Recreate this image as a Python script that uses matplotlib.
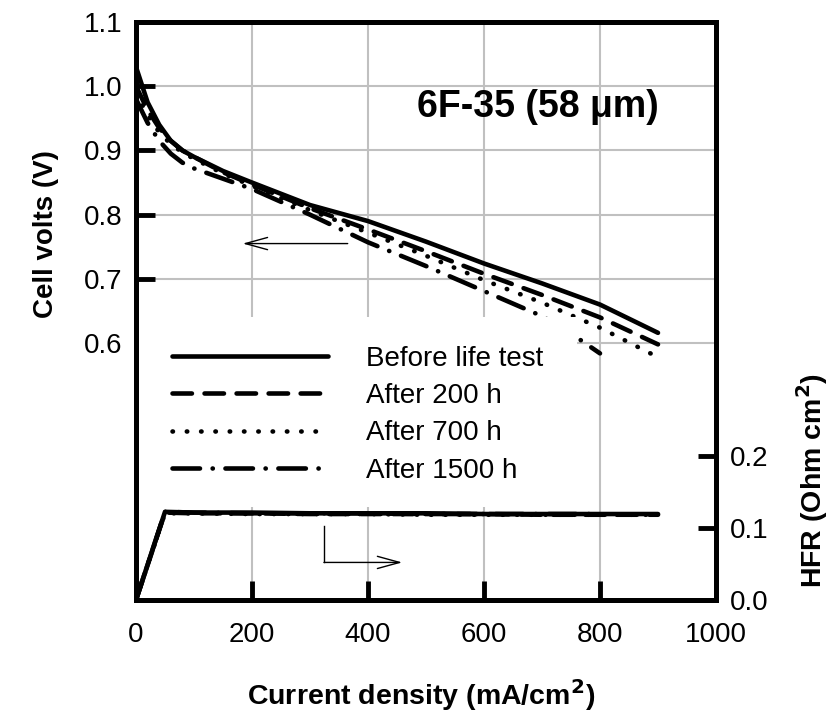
import matplotlib
matplotlib.use('Agg')
import matplotlib.pyplot as plt
from matplotlib.patches import Rectangle
from matplotlib.lines import Line2D

plt.rcParams['font.family'] = ['Liberation Sans', 'DejaVu Sans']

# ---------------- data ----------------
labels = ['Before life test', 'After 200 h', 'After 700 h', 'After 1500 h']

I_pol = [0, 20, 40, 60, 80, 100, 150, 200, 300, 400, 500, 600, 700, 800, 900]
V_before = [1.03, 0.975, 0.94, 0.915, 0.90, 0.89, 0.868, 0.85, 0.815, 0.79, 0.758, 0.724, 0.693, 0.66, 0.616]
V_200h = [1.00, 0.963, 0.935, 0.915, 0.90, 0.89, 0.866, 0.847, 0.81, 0.777, 0.743, 0.708, 0.675, 0.64, 0.598]
V_700h = [0.99, 0.955, 0.928, 0.91, 0.897, 0.887, 0.864, 0.845, 0.807, 0.772, 0.736, 0.698, 0.663, 0.624, 0.578]
I_pol_1500 = [0, 20, 40, 60, 80, 100, 150, 200, 300, 400, 500, 600, 700, 750, 800]
V_1500h = [0.98, 0.943, 0.915, 0.895, 0.881, 0.872, 0.856, 0.84, 0.80, 0.757, 0.72, 0.681, 0.642, 0.615, 0.584]

I_hfr = [0, 50, 100, 200, 300, 400, 500, 600, 700, 800, 900]
HFR_before = [0, 0.122, 0.121, 0.121, 0.120, 0.120, 0.120, 0.119, 0.119, 0.119, 0.119]
HFR_200h = [0, 0.121, 0.120, 0.120, 0.119, 0.119, 0.119, 0.119, 0.118, 0.118, 0.118]
HFR_700h = [0, 0.120, 0.120, 0.119, 0.119, 0.119, 0.118, 0.118, 0.118, 0.118, 0.118]
I_hfr_1500 = [0, 50, 100, 200, 300, 400, 500, 600, 700, 800]
HFR_1500h = [0, 0.122, 0.121, 0.120, 0.120, 0.120, 0.119, 0.119, 0.119, 0.119]

x_ticks = [0, 200, 400, 600, 800, 1000]
v_ticks = [0.6, 0.7, 0.8, 0.9, 1.0, 1.1]
hfr_ticks = [0.0, 0.1, 0.2]

# ---------------- styles ----------------
LW = 3.3
styles = [
    dict(linestyle='-', solid_capstyle='round'),
    dict(linestyle=(0, (4.24, 2.75)), dash_capstyle='round'),
    dict(linestyle=(0, (0.1, 3.02)), dash_capstyle='round'),
    dict(linestyle=(0, (6.0, 2.75, 0.05, 2.75)), dash_capstyle='round'),
]

fig = plt.figure(figsize=(8.36, 7.14), dpi=100)
ax = fig.add_axes([136 / 836, 114 / 714, 580 / 836, 578 / 714])
ax2 = ax.twinx()

pol = [(I_pol, V_before), (I_pol, V_200h), (I_pol, V_700h), (I_pol_1500, V_1500h)]
hfr = [(I_hfr, HFR_before), (I_hfr, HFR_200h), (I_hfr, HFR_700h), (I_hfr_1500, HFR_1500h)]

for (x, y), st in zip(pol, styles):
    ax.plot(x, y, color='black', lw=LW, zorder=3, **st)
for (x, y), st in zip(hfr, styles):
    ax2.plot(x, y, color='black', lw=LW, zorder=3, **st)

ax.set_xlim(0, 1000)
ax.set_ylim(0.2, 1.1)
ax2.set_ylim(0, 0.8)

ax.set_xticks(x_ticks)
ax.set_yticks(v_ticks)
ax.set_yticklabels([f'{v:.1f}' for v in v_ticks])
ax2.set_yticks(hfr_ticks)
ax2.set_yticklabels([f'{v:.1f}' for v in hfr_ticks])

ax.grid(True, color='#c0c0c0', lw=1.5)
ax.set_axisbelow(True)

ax.tick_params(axis='both', direction='in', length=14, width=3.5, labelsize=20)
ax.tick_params(axis='x', pad=16)
ax.tick_params(axis='y', pad=10)
ax2.tick_params(axis='y', direction='in', length=13, width=3.5, labelsize=20, pad=10)

for a in (ax, ax2):
    for s in a.spines.values():
        s.set_linewidth(3.6)

# white box behind legend
ax.add_patch(Rectangle((0.005, 0.161), 0.755, 0.329, transform=ax.transAxes,
                       facecolor='white', edgecolor='none', zorder=5))

handles = [Line2D([], [], color='black', lw=LW, **st) for st in styles]
leg = ax.legend(handles, labels, loc='upper left', bbox_to_anchor=(0.062, 0.440),
                frameon=False, fontsize=20, handlelength=5.6, handletextpad=1.4,
                labelspacing=0.41, borderaxespad=0, borderpad=0)
leg.set_zorder(6)

ax.text(484, 0.967, '6F-35 (58 \u03bcm)', fontsize=27, fontweight='bold',
        ha='left', va='center', zorder=6)

# arrows
ax.annotate('', xy=(184, 0.755), xytext=(365, 0.755),
            arrowprops=dict(arrowstyle='->,head_length=0.8,head_width=0.22',
                            lw=1.0, color='black', mutation_scale=20,
                            shrinkA=0, shrinkB=0))
ax2.plot([324, 324], [0.102, 0.052], color='black', lw=1.0)
ax2.annotate('', xy=(459, 0.052), xytext=(324, 0.052),
             arrowprops=dict(arrowstyle='->,head_length=0.8,head_width=0.22',
                             lw=1.0, color='black', mutation_scale=20,
                             shrinkA=0, shrinkB=0))

fig.text(46 / 836, 1 - 234 / 714, 'Cell volts (V)', rotation=90, fontsize=20,
         fontweight='bold', ha='center', va='center')
fig.text(812 / 836, 1 - 480 / 714, 'HFR (Ohm cm$^\\mathbf{2}$)', rotation=90, fontsize=20.5,
         fontweight='bold', ha='center', va='center')
fig.text(421 / 836, 1 - 695 / 714, 'Current density (mA/cm$^\\mathbf{2}$)', fontsize=20.5,
         fontweight='bold', ha='center', va='center')

fig.savefig('out.png', dpi=100)
